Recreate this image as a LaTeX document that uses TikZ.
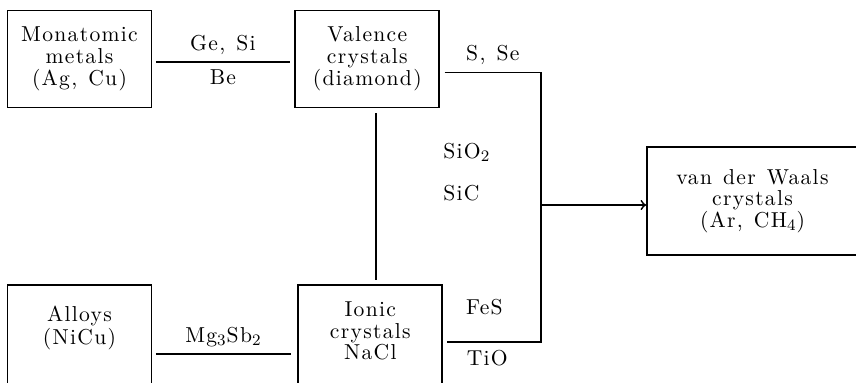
\documentclass[tikz,border=0pt]{standalone}
\usepackage{fontspec}
\usepackage{tikz}
\usetikzlibrary{arrows, positioning}
\newfontfamily\spaced{lmroman10-regular.otf}[LetterSpace=6, WordSpace=1.3]
\tikzstyle{crystal} = [rectangle, minimum width=72pt, minimum height=48.5pt, inner sep=1pt, text centered, align=center, draw=black, line width=0.9pt]
\tikzstyle{openbox} = [rectangle, minimum width=72pt, minimum height=53.5pt, inner sep=1pt, text centered, draw=black, line width=0.9pt]
\tikzstyle{vdw} = [rectangle, minimum width=105.5pt, minimum height=54pt, inner sep=1pt, text centered, align=center, draw=black, line width=0.9pt]
\tikzstyle{link} = [line width=0.9pt]
\tikzstyle{arrow} = [line width=0.9pt,->,>=to]
\newcommand{\stackup}[2][4pt]{\raisebox{#1}[\height][\depth]{\begin{tabular}{@{}c@{}}#2\end{tabular}}}

\begin{document}
\begin{tikzpicture}[x=0.5pt,y=0.5pt,node distance=1cm,font=\spaced\fontsize{10.8}{10.9}\selectfont]
\useasboundingbox (0,0) rectangle (856,382);
\clip (0,0) rectangle (856,382);
\node (metals) [crystal] at (79.5,323) {Monatomic\\metals\\(Ag, Cu)};
\node (valence) [crystal, right=71pt of metals] {Valence\\crystals\\(diamond)};
\node (alloys) [openbox, below=88pt of metals] {\stackup[5pt]{Alloys\\(NiCu)}};
\node (ionic) [openbox, below=88pt of valence, xshift=1.5pt] {\stackup[2.5pt]{Ionic\\crystals\\NaCl}};
\node (waals) [vdw] at (752.5,181) {van der Waals\\crystals\\(Ar, CH$_4$)};
\coordinate (join) at (541,177);
\coordinate (sse) at ([shift={(2.25pt,-6.75pt)}]valence.east);
\coordinate (fes) at ([shift={(1.75pt,-1.75pt)}]ionic.east);

\draw [link] ([shift={(1.75pt,-1.5pt)}]metals.east) -- node[above]{Ge, Si} node[below]{Be} ([shift={(-2.25pt,-1.5pt)}]valence.west);
\draw [link] ([shift={(1.75pt,-7.75pt)}]alloys.east) -- node[above]{Mg$_3$Sb$_2$} ([shift={(-3.25pt,-7.75pt)}]ionic.west);
\draw [link, shorten <=2.5pt, shorten >=2pt] ([xshift=4.25pt]valence.south) -- node[pos=0.25, right=30pt]{SiO$_2$} node[pos=0.48, right=30pt]{SiC} ([xshift=4.25pt]valence.south |- ionic.north);
\draw [link] (sse) -- node[above]{S, Se} (sse -| join) -- (join);
\draw [link] (join) -- (join |- fes) -- node[pos=0.6, above=10pt]{FeS} node[pos=0.57, below]{TiO} (fes);
\draw [arrow] (join) -- (join -| waals.west);
\end{tikzpicture}
\end{document}
